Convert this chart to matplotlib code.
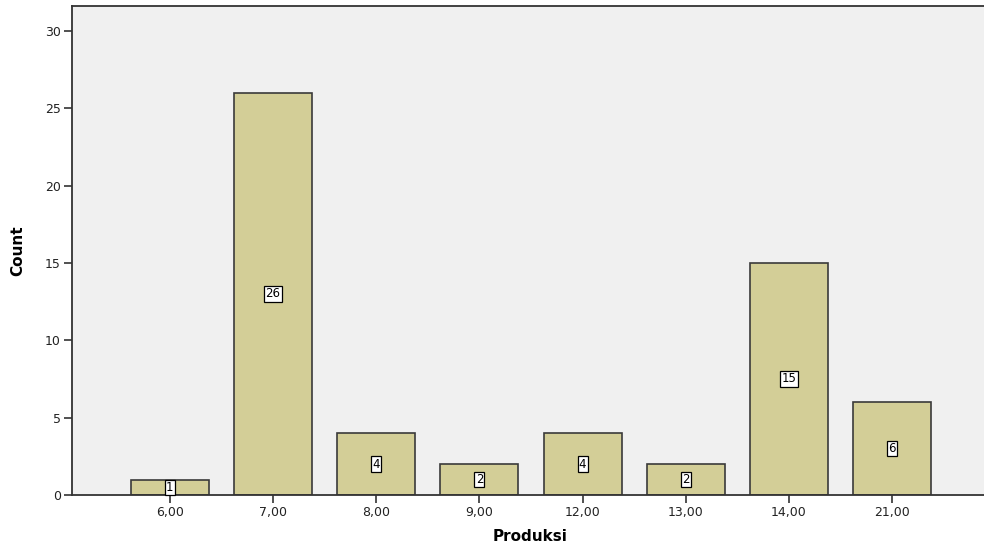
import matplotlib
matplotlib.use("Agg")
import matplotlib.pyplot as plt

categories = ["6,00", "7,00", "8,00", "9,00", "12,00", "13,00", "14,00", "21,00"]
counts = [1, 26, 4, 2, 4, 2, 15, 6]
y_ticks = [0, 5, 10, 15, 20, 25, 30]

fig = plt.figure(figsize=(9.84, 5.5), dpi=100)
ax = fig.add_axes([0.0732, 0.1, 0.93, 0.889])
ax.set_facecolor("#F0F0F0")
x = list(range(len(categories)))
bars = ax.bar(x, counts, width=0.755, color="#D3CE97", edgecolor="#3a3a3a", linewidth=1.2, zorder=2)
for xi, c in zip(x, counts):
    ax.text(xi, c / 2, str(c), ha="center", va="center", fontsize=8.5, color="black",
            bbox=dict(boxstyle="square,pad=0.1", facecolor="white", edgecolor="black", linewidth=0.9), zorder=3)

ax.set_xlim(-0.947, 7.92)
ax.set_ylim(0, 31.6)
ax.set_xticks(x)
ax.set_xticklabels(categories, fontsize=9, color="#222222")
ax.set_yticks(y_ticks)
ax.set_yticklabels([str(t) for t in y_ticks], fontsize=9, color="#222222")
ax.tick_params(axis="both", direction="out", length=6, width=1.2, color="#333333", pad=2)
for side in ["left", "bottom", "top"]:
    ax.spines[side].set_color("#333333")
    ax.spines[side].set_linewidth(1.3)
ax.spines["right"].set_visible(False)
ax.set_xlabel("Produksi", fontsize=11, fontweight="bold", labelpad=7)
ax.set_ylabel("Count", fontsize=11, fontweight="bold", labelpad=14)

fig.savefig("out.png", dpi=100)
